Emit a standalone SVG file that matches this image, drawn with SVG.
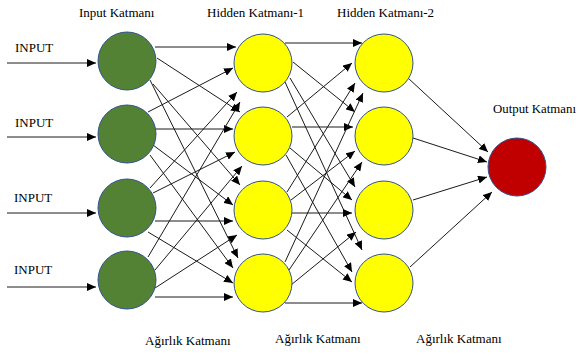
<svg xmlns="http://www.w3.org/2000/svg" width="578" height="356" viewBox="0 0 578 356">
<style>
text{font-family:"Liberation Serif","Times New Roman",serif;font-size:13px;fill:#000}
.c{stroke:#2F528F;stroke-width:1}
.in{fill:#548235}.hid{fill:#FFFF00}.out{fill:#C00000}
#connectors line{stroke:#1a1a1a;stroke-width:1;marker-end:url(#ah)}
</style>
<defs>
<marker id="ah" markerUnits="userSpaceOnUse" markerWidth="9" markerHeight="8" refX="9" refY="4" orient="auto">
<path d="M0,0 L9,4 L0,8 z" fill="#000"/>
</marker>
</defs>
<rect width="578" height="356" fill="#fff"/>
<g id="connectors">
<line x1="7" y1="63" x2="96" y2="63"/>
<line x1="7" y1="137" x2="96" y2="137"/>
<line x1="7" y1="213" x2="96" y2="213"/>
<line x1="7" y1="287" x2="96" y2="287"/>
<line x1="155" y1="47" x2="236" y2="47"/>
<line x1="157" y1="58" x2="240" y2="112"/>
<line x1="153" y1="84" x2="240" y2="185"/>
<line x1="150" y1="80" x2="238" y2="258"/>
<line x1="148" y1="112" x2="233" y2="68"/>
<line x1="155" y1="129" x2="233" y2="129"/>
<line x1="153" y1="145" x2="233" y2="205"/>
<line x1="150" y1="155" x2="233" y2="268"/>
<line x1="150" y1="188" x2="237" y2="92"/>
<line x1="153" y1="193" x2="235" y2="152"/>
<line x1="155" y1="221" x2="233" y2="221"/>
<line x1="148" y1="232" x2="233" y2="283"/>
<line x1="148" y1="257" x2="240" y2="102"/>
<line x1="155" y1="270" x2="242" y2="166"/>
<line x1="155" y1="288" x2="237" y2="235"/>
<line x1="155" y1="297" x2="233" y2="297"/>
<line x1="285" y1="43" x2="362" y2="43"/>
<line x1="293" y1="62" x2="355" y2="112"/>
<line x1="290" y1="78" x2="355" y2="187"/>
<line x1="285" y1="82" x2="362" y2="250"/>
<line x1="287" y1="117" x2="352" y2="63"/>
<line x1="292" y1="127" x2="353" y2="127"/>
<line x1="290" y1="148" x2="352" y2="200"/>
<line x1="286" y1="155" x2="352" y2="272"/>
<line x1="287" y1="192" x2="355" y2="83"/>
<line x1="291" y1="200" x2="355" y2="151"/>
<line x1="292" y1="213" x2="352" y2="213"/>
<line x1="287" y1="230" x2="352" y2="282"/>
<line x1="285" y1="262" x2="363" y2="93"/>
<line x1="289" y1="270" x2="362" y2="162"/>
<line x1="291" y1="285" x2="356" y2="232"/>
<line x1="285" y1="303" x2="362" y2="303"/>
<line x1="408" y1="78" x2="488" y2="152"/>
<line x1="413" y1="138" x2="487" y2="162"/>
<line x1="413" y1="200" x2="487" y2="177"/>
<line x1="410" y1="267" x2="492" y2="192"/>
</g>
<g id="input1"><circle class="c in" cx="127" cy="61" r="29"/></g>
<g id="input2"><circle class="c in" cx="127" cy="134" r="29"/></g>
<g id="input3"><circle class="c in" cx="127" cy="208" r="29"/></g>
<g id="input4"><circle class="c in" cx="127" cy="280" r="29"/></g>
<g id="h1n1"><circle class="c hid" cx="263" cy="63" r="29"/></g>
<g id="h1n2"><circle class="c hid" cx="263" cy="136" r="29"/></g>
<g id="h1n3"><circle class="c hid" cx="263" cy="210" r="29"/></g>
<g id="h1n4"><circle class="c hid" cx="263" cy="283" r="29"/></g>
<g id="h2n1"><circle class="c hid" cx="384" cy="63" r="29"/></g>
<g id="h2n2"><circle class="c hid" cx="384" cy="136" r="29"/></g>
<g id="h2n3"><circle class="c hid" cx="384" cy="210" r="29"/></g>
<g id="h2n4"><circle class="c hid" cx="384" cy="283" r="29"/></g>
<g id="output"><circle class="c out" cx="517" cy="167" r="29"/></g>
<g id="labels">
<text x="79" y="17">Input Katmanı</text>
<text x="207" y="17">Hidden Katmanı-1</text>
<text x="337" y="17">Hidden Katmanı-2</text>
<text x="493" y="113" textLength="83" lengthAdjust="spacingAndGlyphs">Output Katmanı</text>
<text x="15" y="52">INPUT</text>
<text x="15" y="127">INPUT</text>
<text x="14" y="202">INPUT</text>
<text x="14" y="274">INPUT</text>
<text x="145" y="345">Ağırlık Katmanı</text>
<text x="275" y="343">Ağırlık Katmanı</text>
<text x="416" y="343">Ağırlık Katmanı</text>
</g>
</svg>
